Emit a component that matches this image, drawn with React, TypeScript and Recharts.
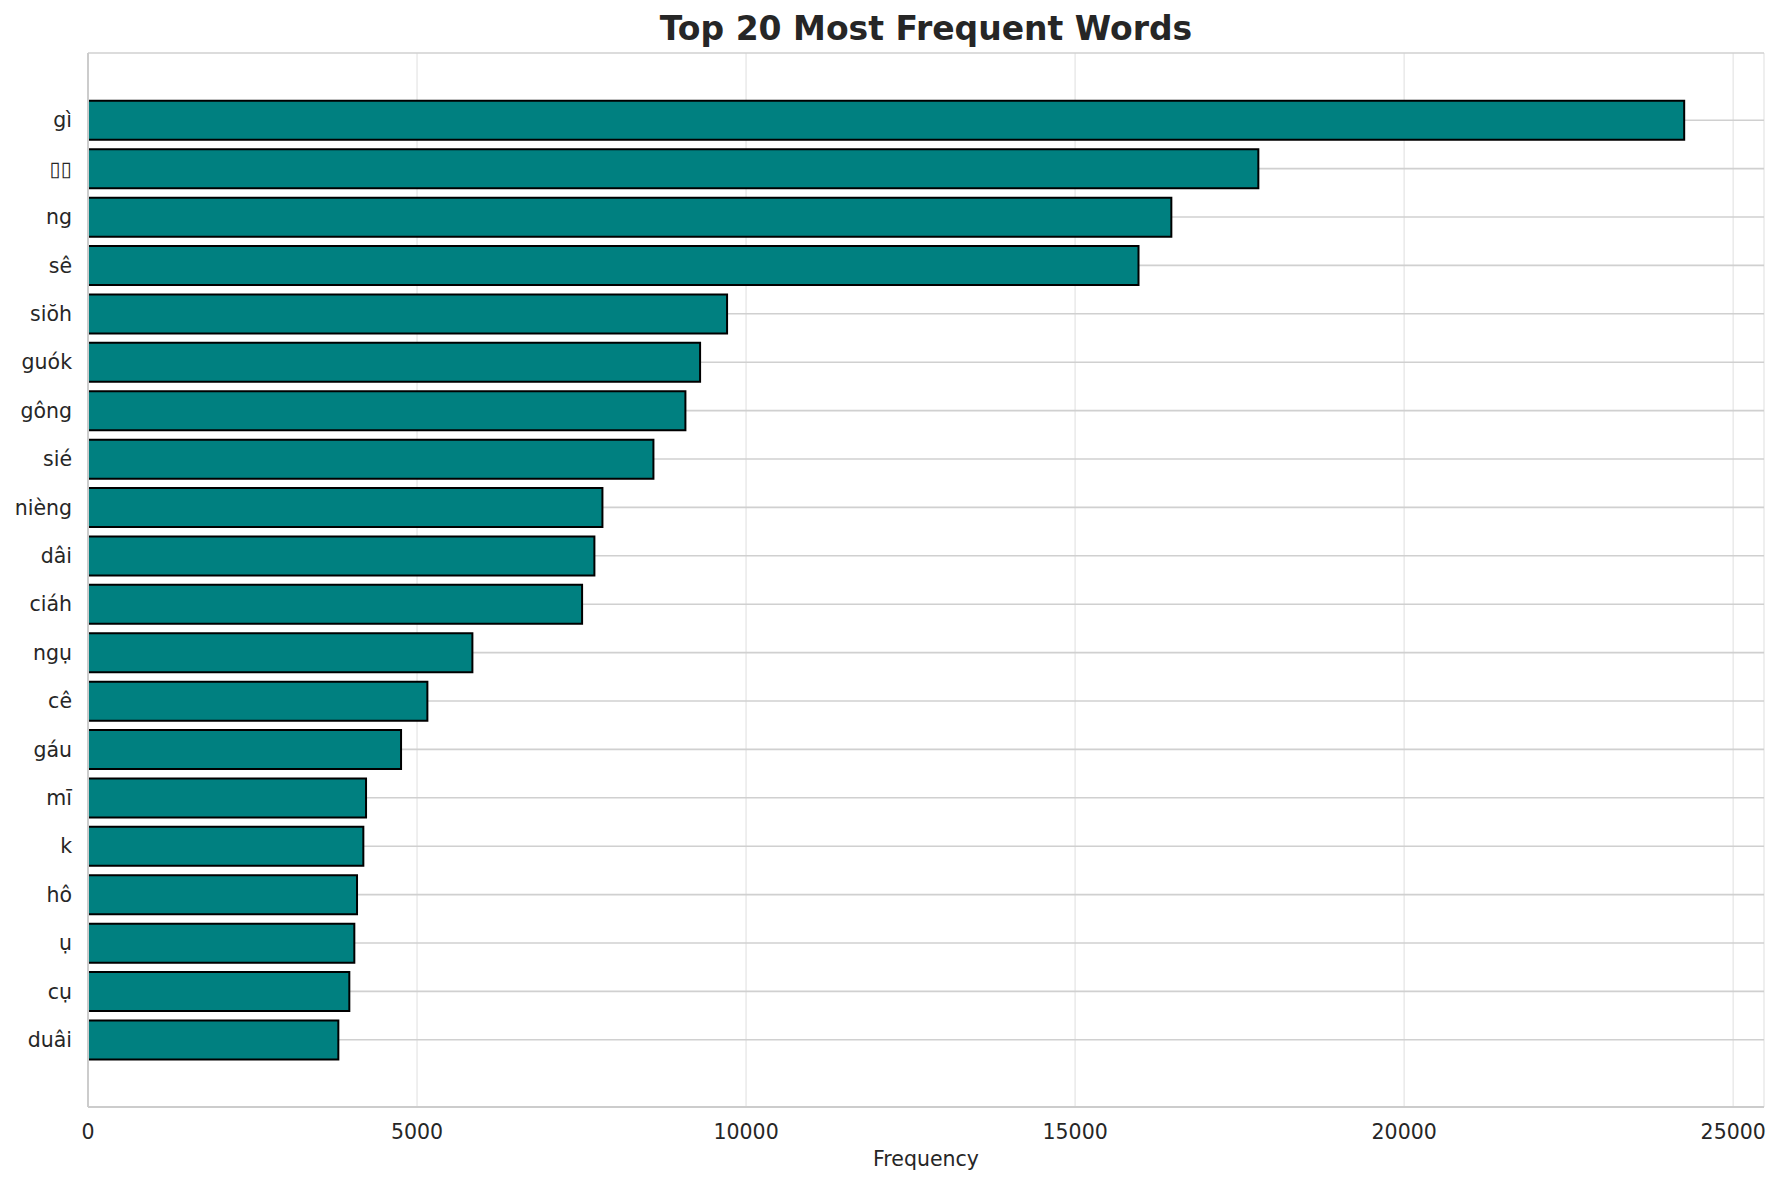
import React from "react";
import {
  Bar,
  BarChart,
  CartesianGrid,
  Label,
  XAxis,
  YAxis,
} from "recharts";

// words sorted by frequency, top first
const words = [
  "gì",
  "\u25AF\u25AF",
  "ng",
  "sê",
  "siŏh",
  "guók",
  "gông",
  "sié",
  "nièng",
  "dâi",
  "ciáh",
  "ngụ",
  "cê",
  "gáu",
  "mī",
  "k",
  "hô",
  "ụ",
  "cụ",
  "duâi",
];

const counts = [
  24255, 17784, 16462, 15963, 9711, 9301, 9078, 8592, 7817, 7695, 7508, 5841,
  5157, 4757, 4225, 4184, 4088, 4047, 3971, 3804,
];

const xTicks = [0, 5000, 10000, 15000, 20000, 25000];

const data = words.map((word, i) => ({ word, count: counts[i] }));

const FONT = "DejaVu Sans";
const TEXT = "#262626";
const SPINE = "#cccccc";

const tickStyle = { fontSize: 20.5, fill: TEXT, fontFamily: FONT };

const App = () => {
  // matplotlib pads the x range by 5% of the max
  const xMax = Math.max(...counts) * 1.05;

  return (
    <div
      style={{
        position: "absolute",
        left: 0,
        top: 0,
        width: 1780,
        height: 1185,
        background: "#ffffff",
        fontFamily: FONT,
      }}
    >
      <div
        style={{
          position: "absolute",
          left: 88,
          width: 1676,
          top: 12,
          textAlign: "center",
          fontSize: 33,
          lineHeight: "33px",
          fontWeight: "bold",
          color: TEXT,
        }}
      >
        Top 20 Most Frequent Words
      </div>
      <BarChart
        layout="vertical"
        width={1780}
        height={1185}
        data={data}
        barCategoryGap="10%"
        margin={{ top: 53, right: 16, bottom: 19, left: 8 }}
      >
        {/* light vertical grid */}
        <CartesianGrid
          horizontal={false}
          stroke="#ebebeb"
          strokeWidth={1.6}
        />
        {/* stronger horizontal grid at each word */}
        <CartesianGrid vertical={false} stroke="#d0d0d0" strokeWidth={1.6} />
        <XAxis
          type="number"
          domain={[0, xMax]}
          ticks={xTicks}
          allowDataOverflow
          tickLine={false}
          tickMargin={11}
          axisLine={{ stroke: SPINE, strokeWidth: 2 }}
          tick={tickStyle}
          height={59}
        >
          <Label
            value="Frequency"
            position="insideBottom"
            offset={0}
            style={{ fontSize: 20.5, fill: TEXT, fontFamily: FONT }}
          />
        </XAxis>
        <XAxis
          xAxisId="top"
          orientation="top"
          type="number"
          domain={[0, xMax]}
          ticks={xTicks}
          allowDataOverflow
          tick={false}
          tickLine={false}
          height={0}
          axisLine={{ stroke: SPINE, strokeWidth: 2 }}
        />
        <YAxis
          type="category"
          dataKey="word"
          width={80}
          tickLine={false}
          tickMargin={10}
          padding={{ top: 43, bottom: 43 }}
          axisLine={{ stroke: SPINE, strokeWidth: 2 }}
          tick={tickStyle}
          interval={0}
        />
        <YAxis
          yAxisId="right"
          orientation="right"
          type="category"
          dataKey="word"
          width={0}
          tick={false}
          tickLine={false}
          padding={{ top: 43, bottom: 43 }}
          axisLine={{ stroke: SPINE, strokeWidth: 2 }}
        />
        <Bar
          dataKey="count"
          fill="#008080"
          stroke="#000000"
          strokeWidth={2}
          isAnimationActive={false}
        />
      </BarChart>
    </div>
  );
};

export default App;
